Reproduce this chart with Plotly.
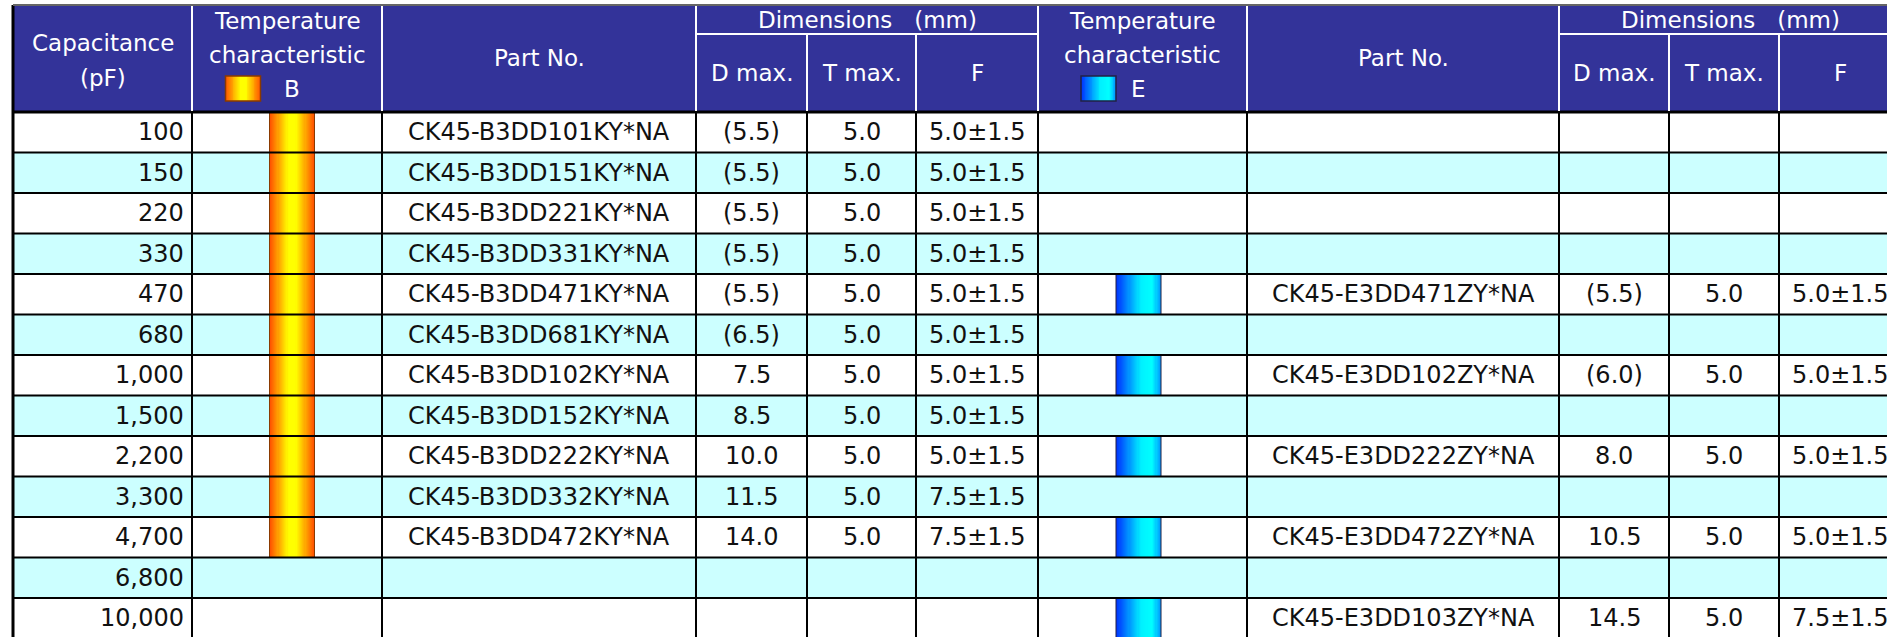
import numpy as np
import plotly.graph_objects as go

# ---------------- data ----------------
capacitance = ["100", "150", "220", "330", "470", "680", "1,000", "1,500",
               "2,200", "3,300", "4,700", "6,800", "10,000"]

b_part = ["CK45-B3DD101KY*NA", "CK45-B3DD151KY*NA", "CK45-B3DD221KY*NA",
          "CK45-B3DD331KY*NA", "CK45-B3DD471KY*NA", "CK45-B3DD681KY*NA",
          "CK45-B3DD102KY*NA", "CK45-B3DD152KY*NA", "CK45-B3DD222KY*NA",
          "CK45-B3DD332KY*NA", "CK45-B3DD472KY*NA", "", ""]
b_dmax = ["(5.5)", "(5.5)", "(5.5)", "(5.5)", "(5.5)", "(6.5)", "7.5", "8.5",
          "10.0", "11.5", "14.0", "", ""]
b_tmax = ["5.0", "5.0", "5.0", "5.0", "5.0", "5.0", "5.0", "5.0",
          "5.0", "5.0", "5.0", "", ""]
b_f = ["5.0±1.5", "5.0±1.5", "5.0±1.5", "5.0±1.5", "5.0±1.5", "5.0±1.5",
       "5.0±1.5", "5.0±1.5", "5.0±1.5", "7.5±1.5", "7.5±1.5", "", ""]

e_part = ["", "", "", "", "CK45-E3DD471ZY*NA", "", "CK45-E3DD102ZY*NA", "",
          "CK45-E3DD222ZY*NA", "", "CK45-E3DD472ZY*NA", "", "CK45-E3DD103ZY*NA"]
e_dmax = ["", "", "", "", "(5.5)", "", "(6.0)", "", "8.0", "", "10.5", "", "14.5"]
e_tmax = ["", "", "", "", "5.0", "", "5.0", "", "5.0", "", "5.0", "", "5.0"]
e_f = ["", "", "", "", "5.0±1.5", "", "5.0±1.5", "", "5.0±1.5", "", "5.0±1.5",
       "", "7.5±1.5"]

header_cap = ["Capacitance", "(pF)"]
header_temp = ["Temperature", "characteristic"]
temp_codes = ["B", "E"]
header_part = "Part No."
header_dim = "Dimensions\u00a0\u00a0\u00a0(mm)"
header_sub = ["D max.", "T max.", "F"]

# ---------------- style / geometry (pixels) ----------------
W, H = 1887, 637
X0 = 13
col_widths = [179, 190, 314, 111, 109, 122, 209, 312, 110, 110, 122]
HEAD_TOP, HEAD_MID, HEAD_BOT = 5, 34, 112
ROW_H = 40.5
BAR_W = 45
FONT = "DejaVu Sans"
FS_HEAD = 23
FS_BODY = 24
HEAD_BG = "#333399"
ROW_BG = ["#FFFFFF", "#CCFFFF"]
TXT = "#111111"

edges = [X0]
for w in col_widths:
    edges.append(edges[-1] + w)
centers = [(edges[i] + edges[i + 1]) / 2 for i in range(len(col_widths))]
n_rows = len(capacitance)
row_edges = [HEAD_BOT + i * ROW_H for i in range(n_rows + 1)]
row_mid = [(row_edges[i] + row_edges[i + 1]) / 2 for i in range(n_rows)]

fig = go.Figure()
shapes = []
ann = []

# backgrounds
shapes.append(dict(type="rect", layer="below", x0=X0, x1=edges[-1], y0=HEAD_TOP,
                   y1=HEAD_BOT, fillcolor=HEAD_BG, line_width=0))
for i in range(n_rows):
    shapes.append(dict(type="rect", layer="below", x0=X0, x1=edges[-1],
                       y0=row_edges[i], y1=row_edges[i + 1],
                       fillcolor=ROW_BG[i % 2], line_width=0))

# gradient bars (temperature characteristic columns)
groups = [
    dict(col=1, parts=b_part, offset=5,
         scale=[[0, "#FF5000"], [0.42, "#FFFF00"], [0.58, "#FFFF00"], [1, "#FF5000"]],
         outline="#8A3A00"),
    dict(col=6, parts=e_part, offset=-4,
         scale=[[0, "#0030FF"], [0.55, "#00F0FF"], [0.8, "#00FFFF"], [1, "#0090FF"]],
         outline="#222244"),
]
NSTEP = 40
for g in groups:
    cx = centers[g["col"]] + g["offset"]
    bx = np.linspace(cx - BAR_W / 2, cx + BAR_W / 2, NSTEP + 1)
    t = (np.arange(NSTEP) + 0.5) / NSTEP
    z = [list(t) if p else [None] * NSTEP for p in g["parts"]]
    fig.add_trace(go.Heatmap(x=bx, y=row_edges, z=z, colorscale=g["scale"],
                             zmin=0, zmax=1, showscale=False, hoverinfo="skip"))
    # header swatch
    sx = centers[g["col"]] - 44
    sxe = np.linspace(sx - 17.5, sx + 17.5, NSTEP + 1)
    fig.add_trace(go.Heatmap(x=sxe, y=[76, 101], z=[list(t)], colorscale=g["scale"],
                             zmin=0, zmax=1, showscale=False, hoverinfo="skip"))
    shapes.append(dict(type="rect", layer="above", x0=sx - 17.5, x1=sx + 17.5,
                       y0=76, y1=101, line=dict(color=g["outline"], width=1.5)))
    # bar outlines, merging consecutive rows
    i = 0
    while i < n_rows:
        if g["parts"][i]:
            j = i
            while j + 1 < n_rows and g["parts"][j + 1]:
                j += 1
            shapes.append(dict(type="rect", layer="above", x0=cx - BAR_W / 2,
                               x1=cx + BAR_W / 2, y0=row_edges[i], y1=row_edges[j + 1],
                               line=dict(color=g["outline"], width=1)))
            i = j + 1
        else:
            i += 1
    g["cx"] = cx

# grid lines (data area)
for k in range(1, n_rows + 1):
    shapes.append(dict(type="line", layer="above", x0=X0, x1=edges[-1],
                       y0=row_edges[k], y1=row_edges[k], line=dict(color="#000", width=2)))
shapes.append(dict(type="line", layer="above", x0=X0, x1=edges[-1], y0=HEAD_BOT,
                   y1=HEAD_BOT, line=dict(color="#000", width=3)))
for e in edges[1:]:
    shapes.append(dict(type="line", layer="above", x0=e, x1=e, y0=HEAD_BOT,
                       y1=row_edges[-1], line=dict(color="#000", width=2)))
# header lines (white)
sub_edges = {4, 5, 9, 10}
for idx, e in enumerate(edges[1:], start=1):
    y0 = HEAD_MID if idx in sub_edges else HEAD_TOP
    shapes.append(dict(type="line", layer="above", x0=e, x1=e, y0=y0, y1=HEAD_BOT - 1,
                       line=dict(color="#FFF", width=2)))
for a, b in [(3, 6), (8, 11)]:
    shapes.append(dict(type="line", layer="above", x0=edges[a], x1=edges[b],
                       y0=HEAD_MID, y1=HEAD_MID, line=dict(color="#FFF", width=2)))
# outer borders
shapes.append(dict(type="line", layer="above", x0=X0, x1=X0, y0=HEAD_TOP,
                   y1=row_edges[-1], line=dict(color="#000", width=3)))
shapes.append(dict(type="line", layer="above", x0=X0, x1=edges[-1], y0=HEAD_TOP,
                   y1=HEAD_TOP, line=dict(color="#666", width=2)))


def text(x, y, s, color=TXT, xanchor="center", size=FS_BODY):
    ann.append(dict(x=x, y=y, text=s, showarrow=False, xanchor=xanchor,
                    yanchor="middle", font=dict(family=FONT, size=size, color=color)))


# header texts
HW = dict(color="#FFF", size=FS_HEAD)
text(centers[0], 43, header_cap[0], **HW)
text(centers[0], 78, header_cap[1], **HW)
for g, code in zip(groups, temp_codes):
    c = g["col"]
    text(centers[c], 21, header_temp[0], **HW)
    text(centers[c], 55, header_temp[1], **HW)
    text(g["cx"], 89, code, **HW)
for pc, dc in [(2, 3), (7, 8)]:
    text(centers[pc], 58, header_part, **HW)
    text((edges[dc] + edges[dc + 3]) / 2, 20, header_dim, **HW)
    for k, s in enumerate(header_sub):
        text(centers[dc + k], 73, s, **HW)

# body texts
for i in range(n_rows):
    y = row_mid[i]
    text(edges[1] - 6, y, capacitance[i], xanchor="right")
    for cols, vals in [((2, 3, 4, 5), (b_part, b_dmax, b_tmax, b_f)),
                       ((7, 8, 9, 10), (e_part, e_dmax, e_tmax, e_f))]:
        for c, v in zip(cols, vals):
            if v[i]:
                text(centers[c], y, v[i])

fig.update_layout(
    width=W, height=H, margin=dict(l=0, r=0, t=0, b=0),
    paper_bgcolor="#FFFFFF", plot_bgcolor="#FFFFFF",
    xaxis=dict(range=[0, W], visible=False, fixedrange=True),
    yaxis=dict(range=[H, 0], visible=False, fixedrange=True),
    shapes=shapes, annotations=ann, showlegend=False,
)

fig.write_html("out.html", config={"displayModeBar": False},
               post_script="document.body.style.margin='0';document.body.style.overflow='hidden';")
